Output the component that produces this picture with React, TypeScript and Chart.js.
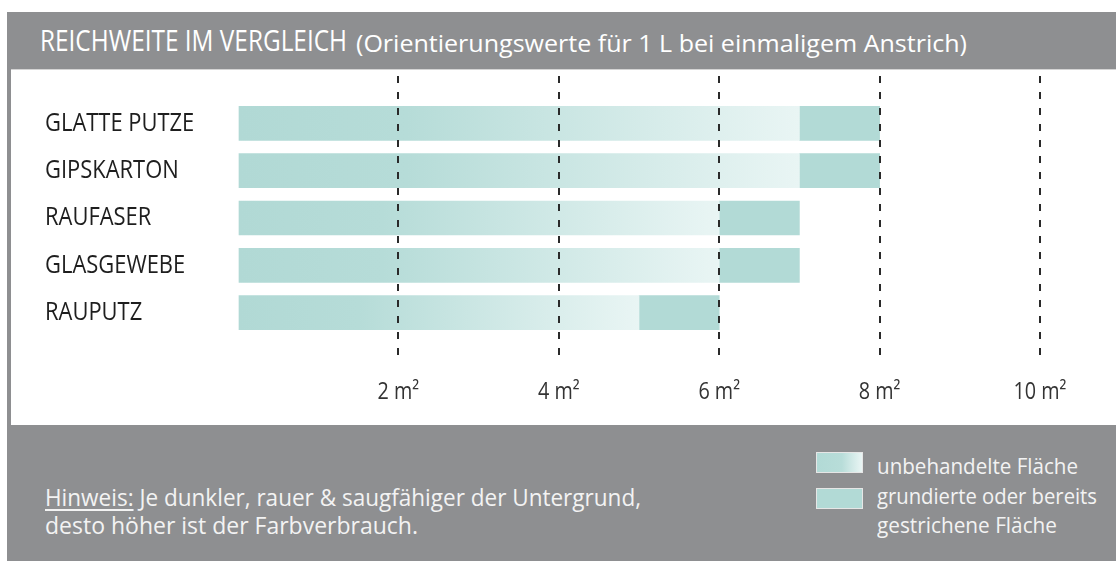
import React, { useEffect, useLayoutEffect, useRef } from "react";
import { Chart, registerables } from "chart.js";

Chart.register(...registerables);

const categories = ["GLATTE PUTZE", "GIPSKARTON", "RAUFASER", "GLASGEWEBE", "RAUPUTZ"];
// m² per litre on untreated surfaces (gradient part ends here)
const untreatedReach = [7, 7, 6, 6, 5];
// m² per litre on primed / already painted surfaces (solid part ends here)
const primedReach = [8, 8, 7, 7, 6];
const xTicks = [0, 2, 4, 6, 8, 10];
const legendLabels = ["unbehandelte Fläche", "grundierte oder bereits gestrichene Fläche"];

const FONT = "'Open Sans', Roboto, sans-serif";
const TEAL = "#b2dad6";
const TEAL_LIGHT = "#e9f5f4";
const GRAY = "#8e8f91";
const CONDENSE = 0.86;

function FitText(props: { width: number; style?: React.CSSProperties; children: React.ReactNode }) {
  const r = useRef<HTMLSpanElement | null>(null);
  useLayoutEffect(() => {
    const el = r.current;
    if (!el) return;
    el.style.transform = "none";
    const w = el.getBoundingClientRect().width;
    if (w > 0) el.style.transform = `scaleX(${props.width / w})`;
  });
  return (
    <span
      ref={r}
      style={{ display: "inline-block", transformOrigin: "0 0", whiteSpace: "nowrap", ...props.style }}
    >
      {props.children}
    </span>
  );
}

// draws the axis labels horizontally condensed (the original uses a condensed typeface)
const condensedTextPlugin = {
  id: "condensedText",
  beforeDraw(chart: any) {
    const ctx = chart.ctx as any;
    if (ctx.__condensed) return;
    const orig = ctx.fillText.bind(ctx);
    ctx.fillText = (text: string, x: number, y: number, maxWidth?: number) => {
      ctx.save();
      ctx.translate(x, y);
      ctx.scale(CONDENSE, 1);
      if (maxWidth === undefined) orig(text, 0, 0);
      else orig(text, 0, 0, maxWidth / CONDENSE);
      ctx.restore();
    };
    ctx.__condensed = true;
  },
};

export default function App() {
  const ref = useRef<HTMLCanvasElement | null>(null);

  useEffect(() => {
    if (!ref.current) return;
    const labels = ["", ...categories, ""];
    const untreated = [null, ...untreatedReach, null];
    const primed = [null, ...primedReach.map((p, i) => [untreatedReach[i], p]), null];

    const chart = new Chart(ref.current, {
      type: "bar",
      data: {
        labels,
        datasets: [
          {
            label: legendLabels[0],
            data: untreated as any,
            backgroundColor: (c: any) => {
              const ch = c.chart;
              if (!ch.chartArea || c.type !== "data" || c.raw == null) return TEAL;
              const xs = ch.scales.x;
              const x0 = xs.getPixelForValue(0);
              const x1 = xs.getPixelForValue(c.raw as number);
              const g = ch.ctx.createLinearGradient(x0, 0, x1, 0);
              g.addColorStop(0, "#b1d9d5");
              g.addColorStop(0.3, "#b6dcd8");
              g.addColorStop(1, TEAL_LIGHT);
              return g;
            },
            borderWidth: 0,
            barThickness: 34,
            grouped: false,
          } as any,
          {
            label: legendLabels[1],
            data: primed as any,
            backgroundColor: TEAL,
            borderWidth: 0,
            barThickness: 34,
            grouped: false,
          } as any,
        ],
      },
      options: {
        animation: false,
        responsive: false,
        indexAxis: "y",
        layout: { padding: { left: 34, right: 76, top: 6, bottom: 0 } },
        plugins: { legend: { display: false }, tooltip: { enabled: false } },
        scales: {
          x: {
            type: "linear",
            min: 0,
            max: 10,
            afterBuildTicks: (s: any) => {
              s.ticks = xTicks.map((v) => ({ value: v }));
            },
            afterFit: (s: any) => {
              s.height = 65;
            },
            grid: {
              color: (c: any) => (c.tick && c.tick.value === 0 ? "rgba(0,0,0,0)" : "#2a2a2a"),
              lineWidth: 2,
              drawTicks: false,
              z: 1,
            },
            border: { display: false, dash: [7, 9] },
            ticks: {
              padding: 19,
              color: "#333333",
              font: { family: FONT, size: 23 },
              callback: (v: any) => (v === 0 ? "" : `${v} m²`),
            },
          },
          y: {
            type: "category",
            offset: false,
            afterFit: (s: any) => {
              s.width = 193;
              s.paddingTop = 0;
              s.paddingBottom = 0;
            },
            grid: { display: false },
            border: { display: false },
            ticks: {
              crossAlign: "far",
              autoSkip: false,
              color: "#1e1e1e",
              font: { family: FONT, size: 25.5 },
            },
          },
        },
      } as any,
      plugins: [condensedTextPlugin],
    });
    return () => chart.destroy();
  }, []);

  const abs = (s: React.CSSProperties): React.CSSProperties => ({ position: "absolute", ...s });

  return (
    <div style={abs({ left: 0, top: 0, width: 1116, height: 561, fontFamily: FONT })}>
      <div style={abs({ left: 7, top: 12, width: 1109, height: 549, background: GRAY })} />
      <div style={abs({ left: 40, top: 21, color: "#ffffff", fontSize: 30, lineHeight: "38px" })}>
        <FitText width={307}>REICHWEITE IM VERGLEICH</FitText>
      </div>
      <div style={abs({ left: 356, top: 23.5, color: "#ffffff", fontSize: 23.5, lineHeight: "38px" })}>
        <FitText width={611}>(Orientierungswerte für 1 L bei einmaligem Anstrich)</FitText>
      </div>
      <div
        style={abs({
          left: 11,
          top: 69,
          width: 1105,
          height: 356,
          background: "#ffffff",
          borderTop: "1px solid #d4d4d4",
          boxSizing: "border-box",
        })}
      >
        <canvas ref={ref} width={1105} height={355} style={{ display: "block", width: 1105, height: 355 }} />
      </div>
      <div style={abs({ left: 45, top: 483, color: "#f3f3f3", fontSize: 24, lineHeight: "28px" })}>
        <FitText width={596}>
          <span style={{ textDecoration: "underline", textUnderlineOffset: 3 }}>Hinweis:</span> Je dunkler, rauer
          &amp; saugfähiger der Untergrund,
        </FitText>
        <br />
        <FitText width={373}>desto höher ist der Farbverbrauch.</FitText>
      </div>
      <div
        style={abs({
          left: 816,
          top: 452,
          width: 45,
          height: 19,
          border: "1px solid #e6e6e6",
          background: `linear-gradient(to right, ${TEAL} 0%, #b8ddd9 55%, ${TEAL_LIGHT} 100%)`,
        })}
      />
      <div
        style={abs({
          left: 816,
          top: 488,
          width: 45,
          height: 19,
          border: "1px solid #e6e6e6",
          background: TEAL,
        })}
      />
      <div style={abs({ left: 877, top: 451, color: "#f3f3f3", fontSize: 22.5, lineHeight: "29.5px" })}>
        <FitText width={201}>{legendLabels[0]}</FitText>
        <br />
        <FitText width={220}>grundierte oder bereits</FitText>
        <br />
        <FitText width={180}>gestrichene Fläche</FitText>
      </div>
    </div>
  );
}
